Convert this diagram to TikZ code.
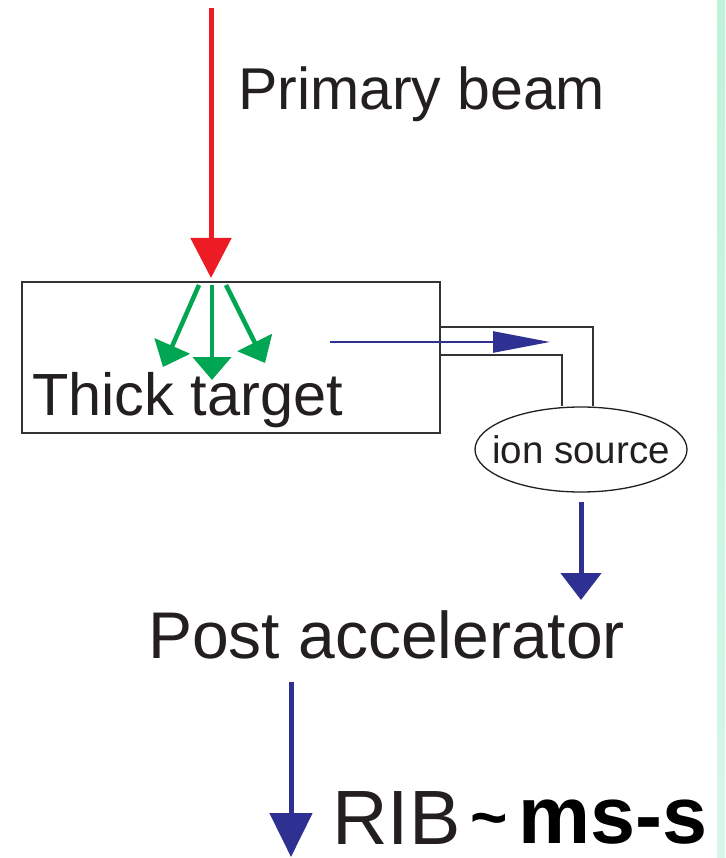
\documentclass[tikz,border=0pt]{standalone}
\usepackage{fontspec}
\setmainfont{Liberation Sans}
\usetikzlibrary{arrows.meta,shapes.geometric}
\definecolor{ared}{HTML}{ED1C24}
\definecolor{agreen}{HTML}{00A651}
\definecolor{ablue}{HTML}{2E3192}
\definecolor{aink}{HTML}{231F20}
\definecolor{boxgray}{HTML}{333333}
\definecolor{stripTop}{HTML}{BEF2D9}
\definecolor{stripBot}{HTML}{D6F7E8}
\begin{document}
\begin{tikzpicture}[x=1pt,y=-1pt,
  lbl/.style={anchor=base west, inner sep=0pt, outer sep=0pt, text=aink},
  redbeam/.style={draw=ared, line width=5pt, -{Triangle[length=40pt,width=40pt]}},
  greenbeam/.style={draw=agreen, line width=4.5pt, -{Triangle[length=23pt,width=38pt]}},
  bluethin/.style={draw=ablue, line width=2.5pt, -{Triangle[length=57pt,width=21pt]}},
  bluebeam/.style={draw=ablue, line width=5pt},
  pipe/.style={draw=boxgray, line width=2pt},
]
\useasboundingbox (0,0) rectangle (725,858);
\clip (0,0) rectangle (725,858);
\fill[white] (0,0) rectangle (725,858);
\shade[top color=stripTop, bottom color=stripBot] (717,0) rectangle (725,858);

% target box
\node[draw=boxgray, line width=2pt, minimum width=418pt, minimum height=151pt, inner sep=0pt] (tgt) at (231,357.5) {};
\node[lbl, font=\fontsize{59.5}{62}\selectfont] (tt) at (32,415) {Thick target};

% primary beam
\coordinate (pbtop) at (211,8);
\coordinate (pbtip) at (211,278);
\draw[redbeam] (pbtop) -- (pbtip);
\node[lbl, font=\fontsize{59}{62}\selectfont] (pb) at (238,110) {Primary beam};

% green fragments
\coordinate (g1s) at (199,285); \coordinate (g1e) at (163,367);
\coordinate (g2s) at (212,285); \coordinate (g2e) at (212,380);
\coordinate (g3s) at (226,285); \coordinate (g3e) at (265,363);
\draw[greenbeam] (g1s) -- (g1e);
\draw[greenbeam] (g2s) -- (g2e);
\draw[greenbeam] (g3s) -- (g3e);

% blue arrow inside target
\coordinate (bs) at (330,342);
\coordinate (be) at (550,342);
\draw[bluethin] (bs) -- (be);

% ion source
\node[ellipse, draw=aink, line width=1.3pt, minimum width=212pt, minimum height=85pt, inner sep=0pt] (src) at (581,449.5) {};
\node[text=aink, inner sep=0pt, font=\fontsize{38.5}{40}\selectfont] (srctxt) at (src.center) {ion source};

% transfer pipe
\coordinate (po1) at (tgt.east |- 0,327);
\coordinate (po2) at (593,327);
\coordinate (pi1) at (tgt.east |- 0,355);
\coordinate (pi2) at (562,355);
\draw[pipe] (po1) -- (po2) -- (src.north -| po2);
\draw[pipe] (pi1) -- (pi2) -- (src.north -| pi2);

% post accelerator
\node[lbl, font=\fontsize{66}{68}\selectfont] (post) at (148,658) {Post accelerator};
\coordinate (sa) at (581,502);
\coordinate (sb) at (581,600);
\draw[bluebeam, -{Triangle[length=27pt,width=40pt]}] (sa) -- (sb);

% RIB
\coordinate (ra) at (291,682);
\coordinate (rb) at (291,857);
\draw[bluebeam, -{Triangle[length=44pt,width=42pt]}] (ra) -- (rb);
\node[lbl, font=\fontsize{77}{80}\selectfont] (rib) at (332,844) {RIB};
\node[lbl, text=black, font=\fontsize{64}{66}\selectfont\bfseries] (tilde) at (470,839) {\char`\~};
\node[lbl, text=black, font=\fontsize{81}{83}\selectfont\bfseries] (ms) at (518,843) {ms-s};
\end{tikzpicture}
\end{document}
